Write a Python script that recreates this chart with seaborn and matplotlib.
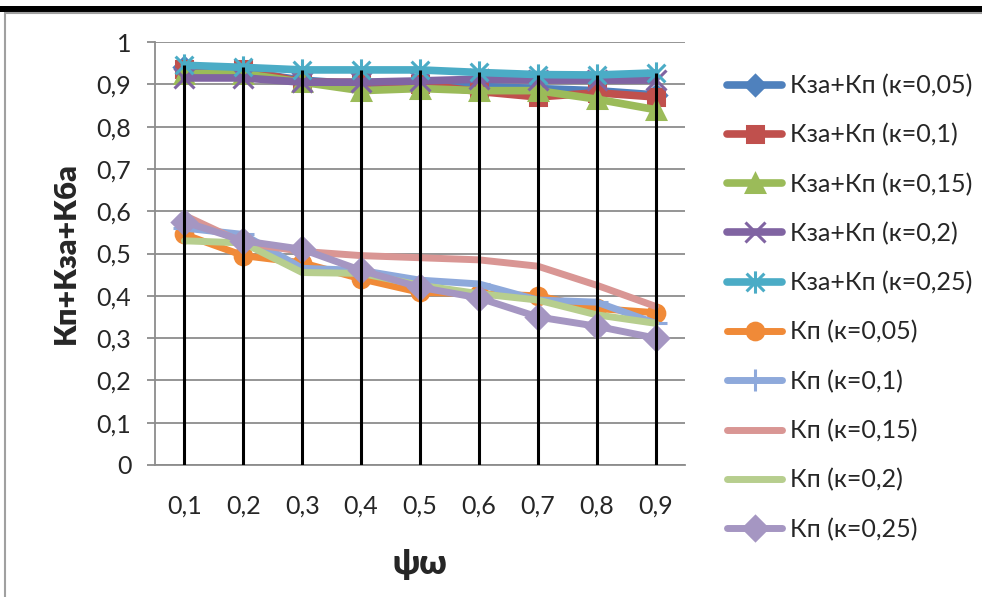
import numpy as np
import matplotlib
matplotlib.use("Agg")
import matplotlib.pyplot as plt
from matplotlib.path import Path
from matplotlib.lines import Line2D
from matplotlib.patches import Rectangle
import seaborn as sns

# ---------------- data ----------------
categories = ['0,1', '0,2', '0,3', '0,4', '0,5', '0,6', '0,7', '0,8', '0,9']

kza_kp_005 = [0.94, 0.93, 0.91, 0.90, 0.90, 0.895, 0.89, 0.885, 0.875]
kza_kp_01 = [0.935, 0.935, 0.905, 0.905, 0.90, 0.883, 0.87, 0.88, 0.87]
kza_kp_015 = [0.925, 0.925, 0.905, 0.885, 0.89, 0.885, 0.885, 0.865, 0.84]
kza_kp_02 = [0.915, 0.915, 0.905, 0.905, 0.908, 0.912, 0.91, 0.91, 0.91]
kza_kp_025 = [0.945, 0.94, 0.934, 0.934, 0.934, 0.928, 0.923, 0.922, 0.927]

kp_005 = [0.545, 0.495, 0.478, 0.44, 0.408, 0.405, 0.40, 0.37, 0.36]
kp_01 = [0.56, 0.545, 0.465, 0.46, 0.437, 0.428, 0.39, 0.385, 0.335]
kp_015 = [0.59, 0.525, 0.505, 0.495, 0.49, 0.485, 0.47, 0.425, 0.375]
kp_02 = [0.53, 0.525, 0.455, 0.453, 0.425, 0.405, 0.39, 0.355, 0.335]
kp_025 = [0.575, 0.53, 0.51, 0.46, 0.42, 0.395, 0.35, 0.328, 0.30]

labels = ['Кза+Кп (к=0,05)', 'Кза+Кп (к=0,1)', 'Кза+Кп (к=0,15)',
          'Кза+Кп (к=0,2)', 'Кза+Кп (к=0,25)',
          'Кп (к=0,05)', 'Кп (к=0,1)', 'Кп (к=0,15)', 'Кп (к=0,2)', 'Кп (к=0,25)']
series = [kza_kp_005, kza_kp_01, kza_kp_015, kza_kp_02, kza_kp_025,
          kp_005, kp_01, kp_015, kp_02, kp_025]

# ---------------- style ----------------
sns.set_theme(style="white")
plt.rcParams['font.family'] = ['Lato', 'Noto Sans', 'DejaVu Sans']

asterisk = Path([(0, -1), (0, 1), (-0.8, -0.8), (0.8, 0.8), (-0.8, 0.8), (0.8, -0.8)],
                [Path.MOVETO, Path.LINETO, Path.MOVETO, Path.LINETO, Path.MOVETO, Path.LINETO])

colors = ['#4F81BD', '#C0504D', '#9BBB59', '#8064A2', '#4BACC6',
          '#F08A38', '#8EA9DB', '#D99694', '#B7CE8E', '#A596C2']
markers = ['D', 's', '^', 'x', asterisk, 'o', '+', None, None, 'D']
msizes = [10, 11, 13, 14, 16, 12, 16, 0, 0, 12]
lws = [5.5, 5.5, 5.5, 5.5, 5.5, 5, 5, 5, 5, 5]

fig = plt.figure(figsize=(9.82, 5.97), dpi=100)
W, H = 982, 597
ax = fig.add_axes([155 / W, 1 - 465 / H, (685 - 155) / W, (465 - 42) / H])

x = np.arange(len(categories))
for i, (vals, lab) in enumerate(zip(series, labels)):
    m = markers[i]
    kw = dict(color=colors[i], linewidth=lws[i], label=lab, ax=ax, zorder=3 + i * 0.1)
    if m is not None:
        kw.update(marker=m, markersize=msizes[i], markeredgecolor=colors[i],
                  markerfacecolor=colors[i], markeredgewidth=2.2)
    sns.lineplot(x=x, y=vals, **kw)

# drop lines
top = np.max(np.array(series), axis=0)
ax.vlines(x, 0, top, colors='black', linewidth=2.2, zorder=10)

ax.set_xlim(-0.5, len(categories) - 0.5)
ax.set_ylim(0, 1)
ax.set_yticks(np.arange(0, 1.01, 0.1))
ax.set_yticklabels(['0', '0,1', '0,2', '0,3', '0,4', '0,5', '0,6', '0,7', '0,8', '0,9', '1'])
ax.set_xticks(x)
ax.set_xticklabels(categories)
ax.yaxis.grid(True, color='#8C8C8C', linewidth=1.3)
ax.xaxis.grid(False)
ax.tick_params(axis='y', length=6, width=1.3, color='#8C8C8C', pad=11, labelsize=18,
               direction='out', left=True)
ax.tick_params(axis='x', length=0, pad=21, labelsize=18)
for s in ['top', 'right']:
    ax.spines[s].set_visible(False)
for s in ['left', 'bottom']:
    ax.spines[s].set_color('#8C8C8C')
    ax.spines[s].set_linewidth(1.3)
ax.set_facecolor('white')

ax.set_ylabel('Кп+Кза+Кба', fontsize=22, fontweight='heavy', labelpad=12)
ax.set_xlabel('ψω', fontsize=24, fontweight='heavy', labelpad=22)

ax.legend(loc='upper left', bbox_to_anchor=(727 / W, 1 - 74 / H),
          bbox_transform=fig.transFigure, frameon=False, fontsize=18,
          handlelength=2.2, handletextpad=0.32, labelspacing=1.04, borderpad=0,
          borderaxespad=0)

# chart frame and black band from the page
fig.add_artist(Rectangle((0, 1 - 12 / H), 1, 6 / H, transform=fig.transFigure,
                         color='black', lw=0))
fig.add_artist(Line2D([5 / W, 1], [1 - 13 / H, 1 - 13 / H], transform=fig.transFigure,
                      color='#A0A0A0', lw=1.5))
fig.add_artist(Line2D([5 / W, 5 / W], [0, 1 - 13 / H], transform=fig.transFigure,
                      color='#A0A0A0', lw=1.5))

fig.savefig('out.png', dpi=100)
